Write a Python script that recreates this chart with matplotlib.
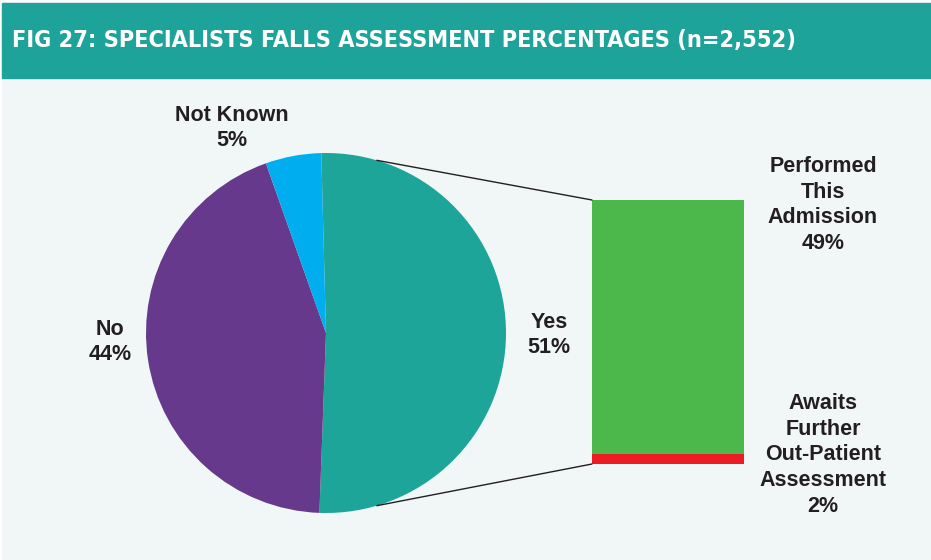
import numpy as np
import matplotlib.pyplot as plt
from matplotlib.patches import Rectangle, ConnectionPatch

# data
pie_labels = ["Yes", "No", "Not Known"]
pie_values = [51, 44, 5]
pie_colors = ["#1ea59a", "#67398c", "#00aeef"]

bar_labels = ["Awaits\nFurther\nOut-Patient\nAssessment", "Performed\nThis\nAdmission"]
bar_values = [2, 49]
bar_colors = ["#ed1c24", "#4cb84c"]

title = "FIG 27: SPECIALISTS FALLS ASSESSMENT PERCENTAGES (n=2,552)"

W, H = 931, 560
fig = plt.figure(figsize=(W / 100, H / 100), dpi=100, facecolor="white")

def fx(px):
    return px / W

def fy(py):
    return 1 - py / H

# background + banner
fig.patches.append(Rectangle((fx(2), 0), 1 - fx(2), fy(3), transform=fig.transFigure,
                             color="#f1f7f7", zorder=-10))
fig.patches.append(Rectangle((fx(2), fy(78)), 1 - fx(2), fy(3) - fy(78), transform=fig.transFigure,
                             color="#1da39a", zorder=-9))
fig.text(fx(12), fy(41), title, color="white", fontsize=16.8, fontweight="bold",
         fontstretch="condensed", family=["DejaVu Sans"], va="center", ha="left")

# pie
cx, cy, r = 326, 333, 180
ax1 = fig.add_axes([fx(cx - r), fy(cy + r), 2 * r / W, 2 * r / H])
ax1.pie(pie_values, colors=pie_colors, startangle=91.5, counterclock=False, radius=1,
        wedgeprops=dict(linewidth=0))
ax1.set_xlim(-1, 1)
ax1.set_ylim(-1, 1)
ax1.set_aspect("auto")
ax1.axis("off")

# bar
ax2 = fig.add_axes([fx(592), fy(464), 152 / W, 264 / H])
bottom = 0
for v, c in zip(bar_values, bar_colors):
    ax2.bar(0, v, bottom=bottom, width=1, color=c)
    bottom += v
ax2.set_xlim(-0.5, 0.5)
ax2.set_ylim(0, sum(bar_values))
ax2.axis("off")

# connecting lines
ang = np.radians(73.6)
for sgn, yb in [(1, sum(bar_values)), (-1, 0)]:
    con = ConnectionPatch(xyA=(-0.5, yb), coordsA=ax2.transData,
                          xyB=(np.cos(ang), sgn * np.sin(ang)), coordsB=ax1.transData,
                          color="#231f20", linewidth=1)
    fig.add_artist(con)

txt = dict(fontsize=15.5, fontweight="bold", color="#231f20", ha="center", va="center",
           linespacing=1.3, family=["Liberation Sans", "DejaVu Sans"])
fig.text(fx(232), fy(128), "Not Known\n%d%%" % pie_values[2], **txt)
fig.text(fx(110), fy(342), "No\n%d%%" % pie_values[1], **txt)
fig.text(fx(549), fy(335), "Yes\n%d%%" % pie_values[0], **txt)
fig.text(fx(823), fy(205), "%s\n%d%%" % (bar_labels[1], bar_values[1]), **txt)
fig.text(fx(823), fy(455), "%s\n%d%%" % (bar_labels[0], bar_values[0]), **txt)

fig.savefig("out.png", dpi=100, facecolor=fig.get_facecolor())
